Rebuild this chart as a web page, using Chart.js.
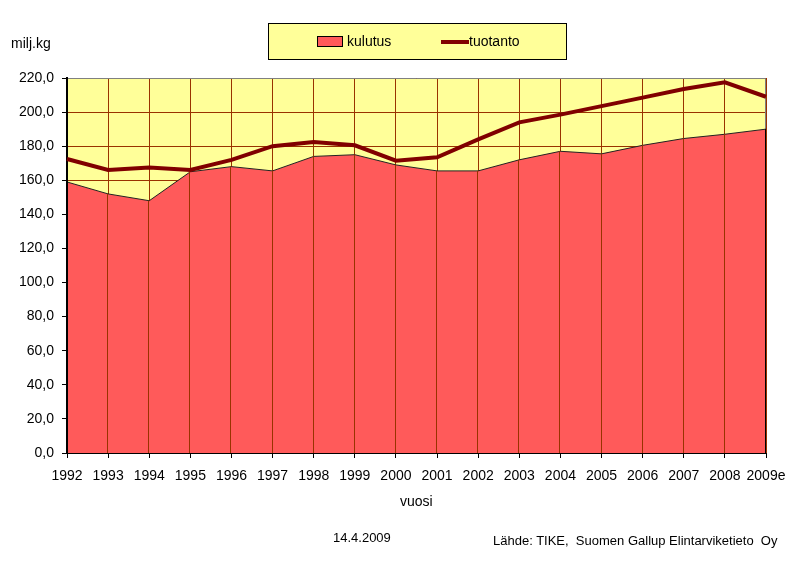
<!DOCTYPE html>
<html>
<head>
<meta charset="utf-8">
<script src="https://cdn.jsdelivr.net/npm/chart.js@4.4.1/dist/chart.umd.min.js"></script>
<style>
  body { margin: 0; background: #fff; }
  #wrap { position: relative; width: 786px; height: 562px; font-family: 'Liberation Sans', Arial, sans-serif; color: #000; }
  #wrap canvas { position: absolute; left: 0; top: 0; }
  .txt { position: absolute; white-space: pre; line-height: 16px; font-size: 14px; }
  .small { font-size: 13px; line-height: 15px; }
  #legend { position: absolute; left: 268px; top: 23px; width: 299px; height: 37px; box-sizing: border-box;
            border: 1px solid #000; background: #FFFF99; }
  #legend .sw { position: absolute; box-sizing: border-box; }
</style>
</head>
<body>
<div id="wrap">
  <canvas id="chart" width="786" height="562"></canvas>
  <div id="legend"></div>
  <div class="txt" style="left:11px; top:35px;">milj.kg</div>
  <div class="txt" style="left:400px; top:493px;">vuosi</div>
  <div class="txt small" style="left:333px; top:530px;">14.4.2009</div>
  <div class="txt small" style="left:493px; top:533px;">Lähde: TIKE,  Suomen Gallup Elintarviketieto  Oy</div>
</div>
<script>
// data
const years = ['1992', '1993', '1994', '1995', '1996', '1997', '1998', '1999', '2000',
               '2001', '2002', '2003', '2004', '2005', '2006', '2007', '2008', '2009e'];
const kulutus = [159, 152, 148, 165, 168, 165.5, 174, 175, 169,
                 165.5, 165.5, 172, 177, 175.5, 180.5, 184.5, 187, 190];
const tuotanto = [172.5, 166, 167.5, 166, 172, 180, 182.5, 180.5, 171.5,
                  173.5, 184, 194, 198.5, 203.5, 208.5, 213.5, 217.5, 209];
const seriesNames = ['kulutus', 'tuotanto'];

// colours
const areaColor = '#FF5A5A';
const lineColor = '#800000';
const gridColor = '#993300';
const plotColor = '#FFFF99';
const font = { family: "'Liberation Sans', Arial, sans-serif", size: 14 };

// html legend, same layout as the excel one
const legend = document.querySelector('#legend');
legend.innerHTML =
  `<div class="sw" style="left:48px; top:12px; width:26px; height:11px; background:${areaColor}; border:1px solid #000;"></div>` +
  `<div class="txt" style="left:78px; top:9px;">${seriesNames[0]}</div>` +
  `<div class="sw" style="left:172px; top:16px; width:28px; height:4px; background:${lineColor};"></div>` +
  `<div class="txt" style="left:200px; top:9px;">${seriesNames[1]}</div>`;

// yellow plot area, grey frame, drop lines over the area
const plotDeco = {
  id: 'plotDeco',
  beforeDraw(chart) {
    const { ctx, chartArea: a } = chart;
    ctx.save();
    ctx.fillStyle = plotColor;
    ctx.fillRect(a.left, a.top, a.right - a.left, a.bottom - a.top);
    ctx.restore();
  },
  beforeDatasetsDraw(chart) {
    const { ctx, chartArea: a } = chart;
    ctx.save();
    ctx.strokeStyle = '#808080';
    ctx.lineWidth = 1;
    ctx.beginPath();
    ctx.moveTo(a.left, a.top + 0.5);
    ctx.lineTo(a.right - 0.5, a.top + 0.5);
    ctx.lineTo(a.right - 0.5, a.bottom);
    ctx.stroke();
    ctx.restore();
  },
  afterDatasetDraw(chart, args) {
    if (args.index !== 0) return; // only after the kulutus area
    const { ctx, chartArea: a } = chart;
    const pts = args.meta.data;
    ctx.save();
    ctx.lineWidth = 1;
    for (let i = 1; i < pts.length; i++) {
      const x = Math.round(pts[i].x) - 0.5;
      ctx.strokeStyle = i === pts.length - 1 ? '#000' : gridColor;
      ctx.beginPath();
      ctx.moveTo(x, pts[i].y);
      ctx.lineTo(x, a.bottom);
      ctx.stroke();
    }
    // axes back on top of the fill
    ctx.fillStyle = '#000';
    ctx.fillRect(a.left - 1, a.top, 2, a.bottom - a.top + 1);
    ctx.fillRect(a.left - 1, Math.round(a.bottom), a.right - a.left + 1, 1);
    ctx.restore();
  }
};

new Chart(document.querySelector('#chart'), {
  type: 'line',
  data: {
    labels: years,
    datasets: [{
      label: seriesNames[0],
      data: kulutus,
      fill: 'origin',
      backgroundColor: areaColor,
      borderColor: '#222',
      borderWidth: 1,
      pointRadius: 0,
      tension: 0,
      order: 2
    }, {
      label: seriesNames[1],
      data: tuotanto,
      fill: false,
      borderColor: lineColor,
      borderWidth: 4,
      pointRadius: 0,
      tension: 0,
      order: 1
    }]
  },
  options: {
    responsive: false,
    animation: false,
    devicePixelRatio: 1,
    layout: { padding: { top: 78, right: 20, bottom: 0, left: 0 } },
    plugins: {
      legend: { display: false },
      tooltip: { enabled: false }
    },
    scales: {
      x: {
        offset: false,
        afterFit: (scale) => {
          scale.height = 109;
          // labels may hang past the edges, like in excel
          scale.paddingLeft = 0;
          scale.paddingRight = 0;
        },
        grid: { color: gridColor, tickColor: '#000', tickLength: 5 },
        border: { color: '#000', width: 1 },
        ticks: { font: font, color: '#000', padding: 10, maxRotation: 0, autoSkip: false }
      },
      y: {
        min: 0,
        max: 220,
        afterFit: (scale) => { scale.width = 67; },
        grid: { color: gridColor, tickColor: '#000', tickLength: 5 },
        border: { color: '#000', width: 2 },
        ticks: {
          stepSize: 20,
          font: font,
          color: '#000',
          padding: 8,
          callback: (v) => v.toFixed(1).replace('.', ',')
        }
      }
    }
  },
  plugins: [plotDeco]
});
</script>
</body>
</html>
